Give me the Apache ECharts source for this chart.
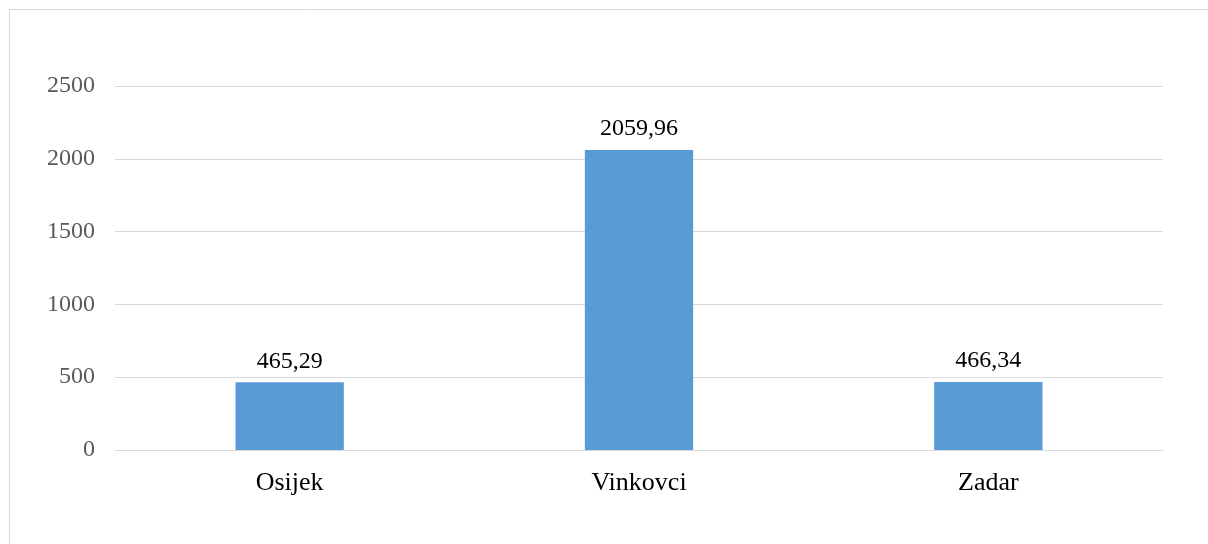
<!DOCTYPE html>
<html>
<head>
<meta charset="utf-8">
<script src="https://cdn.jsdelivr.net/npm/echarts@6/dist/echarts.min.js"></script>
<style>
html,body{margin:0;padding:0;background:#fff;}
#c{width:1208px;height:544px;}
</style>
</head>
<body>
<div id="c"></div>
<script>
const categories = ['Osijek', 'Vinkovci', 'Zadar'];
const values = [465.29, 2059.96, 466.34];
const yTicks = [0, 500, 1000, 1500, 2000, 2500];

const chart = echarts.init(document.getElementById('c'));
chart.setOption({
  animation: false,
  backgroundColor: '#fff',
  graphic: [{
    type: 'rect',
    shape: { x: 9.5, y: 9.5, width: 1400, height: 800 },
    style: { fill: 'none', stroke: '#d9d9d9', lineWidth: 1 },
    silent: true
  }],
  grid: { left: 115, right: 45, top: 86, bottom: 94 },
  xAxis: {
    type: 'category',
    data: categories,
    axisLine: { show: true, lineStyle: { color: '#d9d9d9', width: 1 } },
    axisTick: { show: false },
    axisLabel: { color: '#000', fontFamily: 'Liberation Serif', fontSize: 26, margin: 20 }
  },
  yAxis: {
    type: 'value',
    min: yTicks[0],
    max: yTicks[yTicks.length - 1],
    interval: 500,
    axisLine: { show: false },
    axisTick: { show: false },
    splitLine: { lineStyle: { color: '#d9d9d9', width: 1 } },
    axisLabel: {
      color: '#595959', fontFamily: 'Liberation Serif', fontSize: 24, margin: 20,
      formatter: v => String(v)
    }
  },
  series: [{
    type: 'bar',
    data: values,
    barWidth: '31%',
    itemStyle: { color: '#5b9bd5' },
    label: {
      show: true,
      position: 'top',
      distance: 9,
      color: '#000',
      fontFamily: 'Liberation Serif',
      fontSize: 24,
      formatter: p => p.value.toFixed(2).replace('.', ',')
    }
  }]
});
</script>
</body>
</html>
